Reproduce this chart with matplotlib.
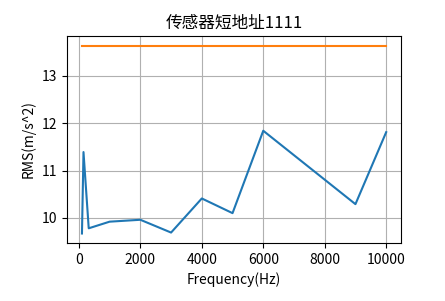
import matplotlib
matplotlib.use('Agg')
import matplotlib.pyplot as plt

plt.rcParams['font.family'] = ['Noto Sans CJK SC', 'DejaVu Sans']
plt.rcParams['axes.unicode_minus'] = False

###数据
freq = [100, 150, 320, 1000, 2000, 3000, 4000, 5000, 6000, 9000, 10000]
rms = [9.67, 11.39, 9.78, 9.92, 9.96, 9.69, 10.41, 10.10, 11.84, 10.29, 11.81]
limit_x = [100, 10000]
limit_y = [13.64, 13.64]

###画图
fig = plt.figure(figsize=(4.45, 3.01), dpi=100)
ax = fig.add_subplot(111)
fig.subplots_adjust(left=0.15, right=0.902, top=0.88, bottom=0.193)
ax.plot(freq, rms)
ax.plot(limit_x, limit_y)
ax.grid(True)
ax.set_title('传感器短地址1111')
ax.set_xlabel('Frequency(Hz)')
ax.set_ylabel('RMS(m/s^2)')
fig.savefig('out.png', dpi=100)
